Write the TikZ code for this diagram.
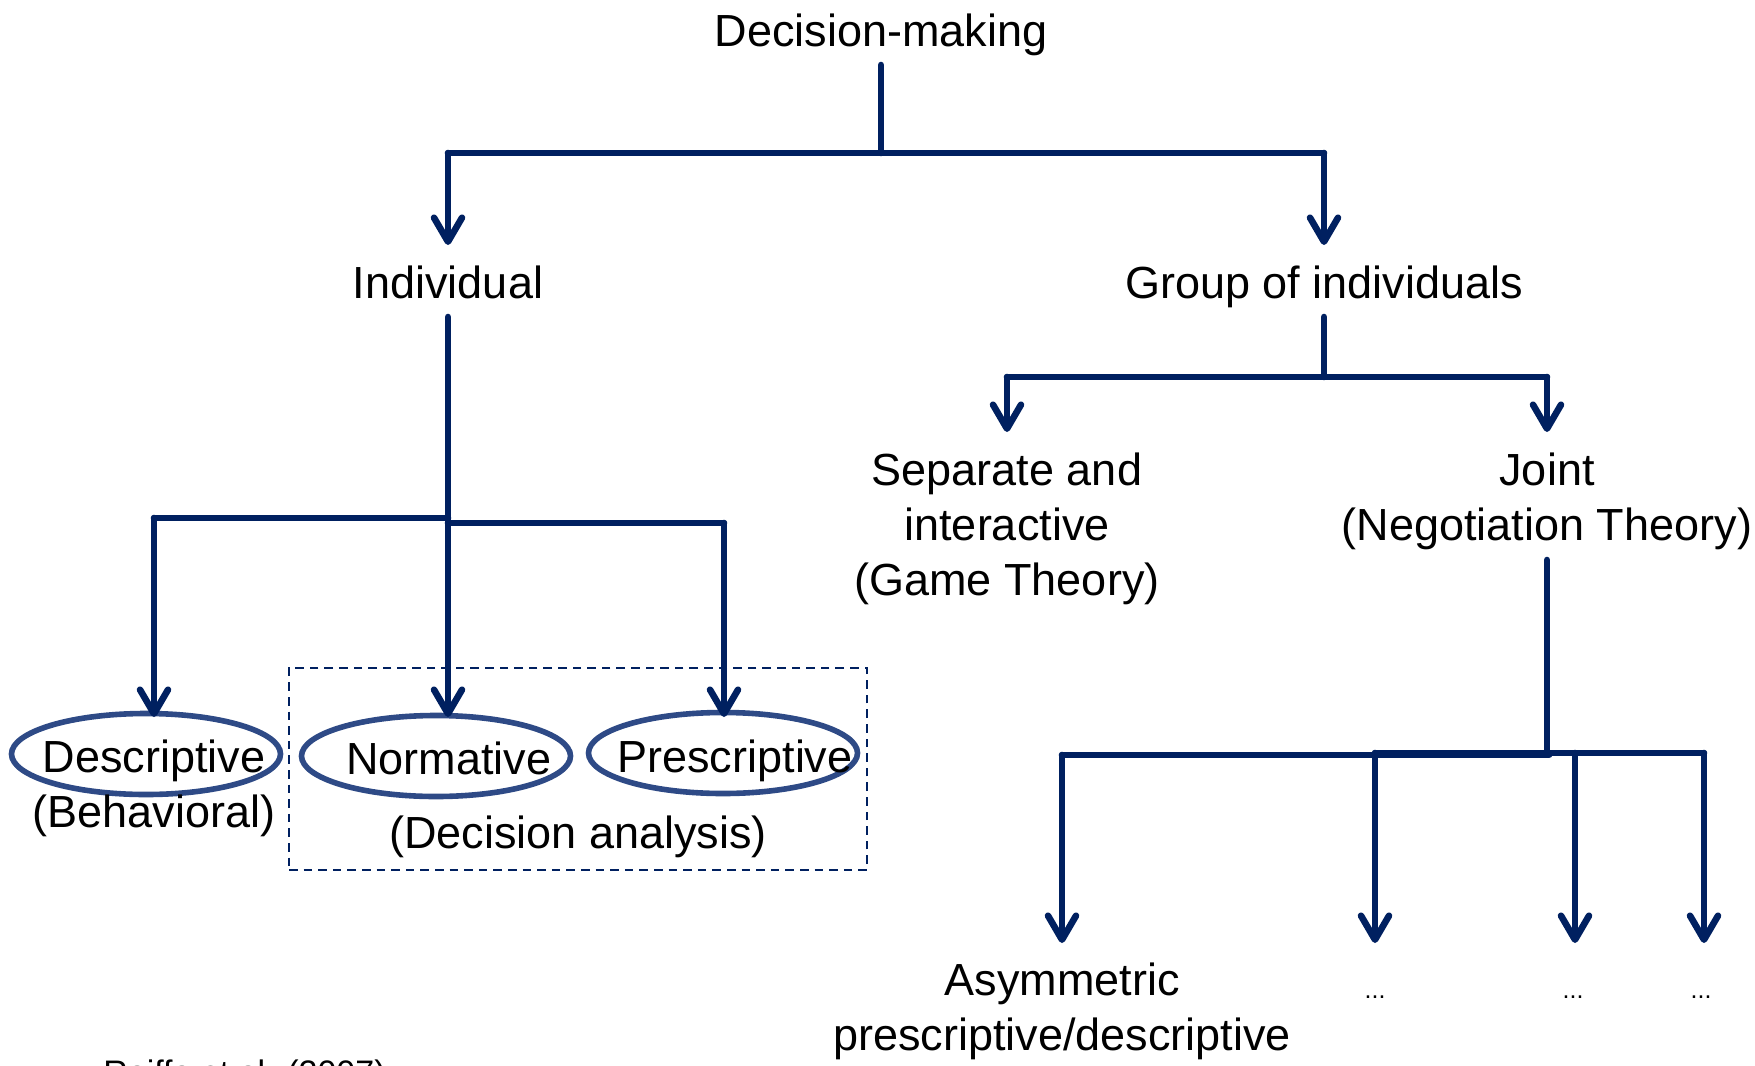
\documentclass[tikz,border=0pt]{standalone}
\usepackage{fontspec}
\setmainfont{Liberation Sans}
\usepackage{xcolor}
\usetikzlibrary{arrows.meta, shapes.geometric}
\definecolor{navy}{RGB}{0,32,96}
\definecolor{ringblue}{RGB}{46,74,134}

\begin{document}
\begin{tikzpicture}[x=0.5pt, y=-0.5pt,
	txt/.style={font=\fontsize{22.5}{27.5}\selectfont, inner sep=0pt, anchor=base, align=center},
	link/.style={draw=navy, line width=3.3pt, line cap=round},
	arr/.style={link, -{Straight Barb[length=12pt, width=14pt, line cap=round, line join=round]}},
	ring/.style={draw=ringblue, line width=2.8pt, ellipse, minimum width=134.5pt, minimum height=40.5pt, inner sep=0pt}]
				\useasboundingbox (0,0) rectangle (1755,1065);
				% texts (multi-line nodes sit on their last baseline)
				\node[txt] (dm) at (881,47) {Decision-making};
				\node[txt] (ind) at (448,298) {Individual};
				\node[txt] (grp) at (1324,298) {Group of individuals};
				\node[txt] (sep) at (1007,595) {Separate and\\interactive\\(Game Theory)};
				\node[txt] (joint) at (1547,540) {Joint\\(Negotiation Theory)};
				\node[ring] (descring) at (146,754) {};
				\node[ring] (normring) at (436,756) {};
				\node[ring] (prescring) at (723,753) {};
				\node[txt] (desc) at (154,827) {Descriptive\\(Behavioral)};
				\node[txt] (norm) at (449,774) {Normative};
				\node[txt] (presc) at (735,772) {Prescriptive};
				\node[txt] (dana) at (578,848) {(Decision analysis)};
				\node[draw=navy, line width=1pt, dash pattern=on 4.3pt off 3pt, inner sep=0pt, minimum width=289pt, minimum height=101pt] (dabox) at (578,769) {};
				\node[txt] (asym) at (1062,1050) {Asymmetric\\prescriptive/descriptive};
				\node[txt, font=\fontsize{12.5}{15}\selectfont] (dotsa) at (1375,998) {...};
				\node[txt, font=\fontsize{12.5}{15}\selectfont] (dotsb) at (1573,998) {...};
				\node[txt, font=\fontsize{12.5}{15}\selectfont] (dotsc) at (1701,998) {...};
				\node[txt, font=\fontsize{17}{20}\selectfont, anchor=base west] (src) at (103,1084) {Raiffa et al. (2007)};
				% junctions
				\coordinate (dmfoot) at (881,65);
				\coordinate (dmbar) at (881,153);
				\coordinate (dml) at (448,153);
				\coordinate (dmr) at (1324,153);
				\coordinate (indtip) at (448,245);
				\coordinate (grptip) at (1324,245);
				\coordinate (indfoot) at (448,317);
				\coordinate (indl) at (154,518);
				\coordinate (indm) at (448,518);
				\coordinate (indm2) at (448,523);
				\coordinate (indr) at (724,523);
				\coordinate (desctip) at (154,717);
				\coordinate (normtip) at (448,717);
				\coordinate (presctip) at (724,717);
				\coordinate (grpfoot) at (1324,317);
				\coordinate (grpbar) at (1324,377);
				\coordinate (grpl) at (1007,377);
				\coordinate (grpr) at (1547,377);
				\coordinate (septip) at (1007,432);
				\coordinate (jointtip) at (1547,432);
				\coordinate (jointfoot) at (1547,560);
				\coordinate (jointbar) at (1547,754);
				\coordinate (jla) at (1062,755);
				\coordinate (jlb) at (1549,755);
				\coordinate (jra) at (1375,753);
				\coordinate (jrb) at (1704,753);
				\coordinate (jrc) at (1575,753);
				\coordinate (asymtip) at (1062,943);
				\coordinate (dotsatip) at (1375,943);
				\coordinate (dotsbtip) at (1575,943);
				\coordinate (dotsctip) at (1704,943);
				% connectors
				\draw[link] (dmfoot) -- (dmbar);
				\draw[link] (dml) -- (dmr);
				\draw[arr] (dml) -- (indtip);
				\draw[arr] (dmr) -- (grptip);
				\draw[link] (indl) -- (indm);
				\draw[link] (indm2) -- (indr);
				\draw[arr] (indfoot) -- (normtip);
				\draw[arr] (indl) -- (desctip);
				\draw[arr] (indr) -- (presctip);
				\draw[link] (grpfoot) -- (grpbar);
				\draw[link] (grpl) -- (grpr);
				\draw[arr] (grpl) -- (septip);
				\draw[arr] (grpr) -- (jointtip);
				\draw[link] (jointfoot) -- (jointbar);
				\draw[link] (jla) -- (jlb);
				\draw[link] (jra) -- (jrb);
				\draw[arr] (jla) -- (asymtip);
				\draw[arr] (jra) -- (dotsatip);
				\draw[arr] (jrc) -- (dotsbtip);
				\draw[arr] (jrb) -- (dotsctip);
			\end{tikzpicture}
\end{document}
